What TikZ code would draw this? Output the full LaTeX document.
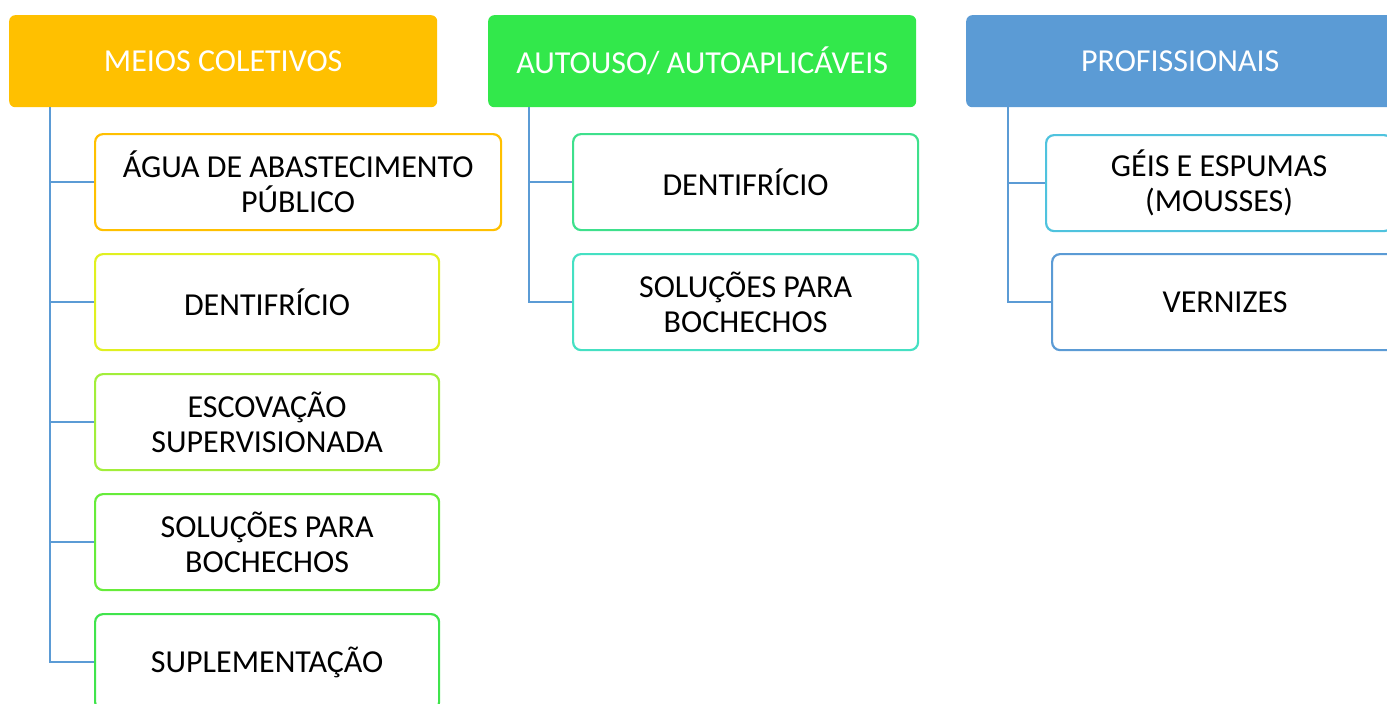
\documentclass[tikz,border=0pt]{standalone}
\usepackage{fontspec}
\setmainfont{Carlito}
\definecolor{hA}{HTML}{FFC000}
\definecolor{hB}{HTML}{32E84B}
\definecolor{hC}{HTML}{5B9BD5}
\definecolor{ln}{HTML}{5B9BD5}
\definecolor{cA1}{HTML}{FFC000}
\definecolor{cA2}{HTML}{E0F020}
\definecolor{cA3}{HTML}{A2EE3A}
\definecolor{cA4}{HTML}{66EC3A}
\definecolor{cA5}{HTML}{40E44C}
\definecolor{cB1}{HTML}{3EE08C}
\definecolor{cB2}{HTML}{45E0C3}
\definecolor{cC1}{HTML}{4FC3DE}
\definecolor{cC2}{HTML}{5B9BD5}
\tikzset{
  hdr/.style={fill=#1, draw=none, rounded corners=6pt, text=white, font=\fontsize{32}{36}\selectfont,
    minimum width=428pt, minimum height=92pt, inner sep=0pt, anchor=north west},
  child/.style={draw=#1, line width=2.2pt, fill=white, rounded corners=8pt, font=\fontsize{32}{35}\selectfont,
    align=center, minimum height=96pt, inner sep=0pt, anchor=north west},
  conn/.style={draw=ln, line width=2.5pt}
}
\begin{document}
\begin{tikzpicture}[x=1pt,y=-1pt]
\useasboundingbox (0,0) rectangle (1387,704);
\clip (0,0) rectangle (1387,704);
% headers
\node[hdr=hA] (h1) at (9,15) {MEIOS COLETIVOS};
\node[hdr=hB] (h2) at (488,15) {AUTOUSO/ AUTOAPLICÁVEIS};
\node[hdr=hC] (h3) at (966,15) {PROFISSIONAIS};
% column 1
\node[child=cA1, minimum width=406pt] (a1) at (94,133) {ÁGUA DE ABASTECIMENTO\\PÚBLICO};
\node[child=cA2, minimum width=344pt] (a2) at (94,253) {DENTIFRÍCIO};
\node[child=cA3, minimum width=344pt] (a3) at (94,373) {ESCOVAÇÃO\\SUPERVISIONADA};
\node[child=cA4, minimum width=344pt] (a4) at (94,493) {SOLUÇÕES PARA\\BOCHECHOS};
\node[child=cA5, minimum width=344pt] (a5) at (94,613) {SUPLEMENTAÇÃO};
% column 2
\node[child=cB1, minimum width=345pt] (b1) at (572,133) {DENTIFRÍCIO};
\node[child=cB2, minimum width=345pt] (b2) at (572,253) {SOLUÇÕES PARA\\BOCHECHOS};
% column 3
\node[child=cC1, minimum width=346pt] (c1) at (1045,134) {GÉIS E ESPUMAS\\(MOUSSES)};
\node[child=cC2, minimum width=346pt] (c2) at (1051,253) {VERNIZES};
% connectors
\coordinate (s1) at (50,107);
\coordinate (s2) at (529,107);
\coordinate (s3) at (1008,107);
\draw[conn] (s1) |- (a1.west);
\draw[conn] (s1) |- (a2.west);
\draw[conn] (s1) |- (a3.west);
\draw[conn] (s1) |- (a4.west);
\draw[conn] (s1) |- (a5.west);
\draw[conn] (s2) |- (b1.west);
\draw[conn] (s2) |- (b2.west);
\draw[conn] (s3) |- (c1.west);
\draw[conn] (s3) |- (c2.west);
\end{tikzpicture}
\end{document}
